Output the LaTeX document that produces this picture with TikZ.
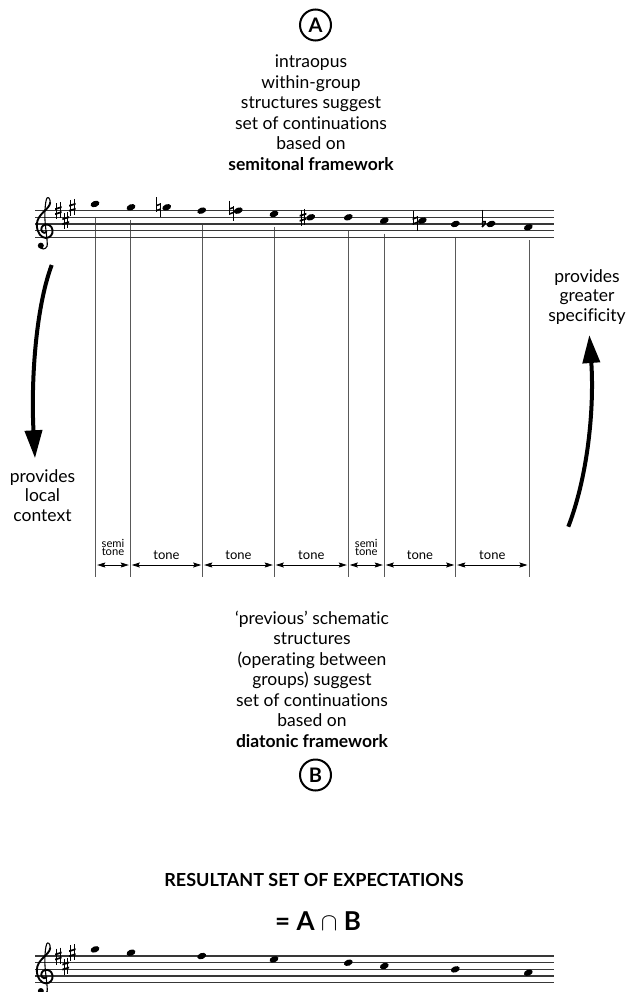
\documentclass[tikz,border=0pt]{standalone}
\usepackage{fontspec}
\setmainfont{Lato}[Ligatures=CommonOff]
\usetikzlibrary{arrows.meta}

\tikzset{
  staffline/.style={line width=1.1pt, draw=black!78},
  guide/.style={line width=0.8pt, draw=black!65},
  span/.style={line width=0.8pt,
    {Stealth[length=8pt,width=5pt,inset=1.2pt]}-{Stealth[length=8pt,width=5pt,inset=1.2pt]},
    shorten <=1.5pt, shorten >=1.5pt},
  bigarrow/.style={line width=4pt, -{Triangle[length=28pt,width=17pt]}},
  % multi-line blocks are anchored at the baseline of their last line
  body/.style={font=\fontsize{17.5}{20.5}\selectfont, align=center, anchor=base, inner sep=0pt},
  sidetext/.style={font=\fontsize{17.5}{19.8}\selectfont, align=center, anchor=base, inner sep=0pt},
  tonelabel/.style={font=\fontsize{13}{13}\selectfont, anchor=base, inner sep=0pt},
  semilabel/.style={font={\fontsize{11.2}{8}\selectfont\lineskiplimit=-20pt},
    align=center, anchor=base, inner sep=0pt},
  ringed/.style={circle, draw, line width=2pt, minimum size=31pt, inner sep=0pt,
    font=\bfseries\fontsize{20}{20}\selectfont},
  notehead/.pic={\fill[rotate=22] (0,0) ellipse [x radius=4.6, y radius=3.0];},
  sharpsign/.pic={
    \draw[line width=0.75pt] (-1.6,-7.5) -- (-1.6,8.5) (1.6,-8.5) -- (1.6,7.5);
    \fill (-3.3,-2.4) -- (3.3,-4.4) -- (3.3,-2.6) -- (-3.3,-0.6) -- cycle;
    \fill (-3.3,2.6) -- (3.3,0.6) -- (3.3,2.4) -- (-3.3,4.4) -- cycle;
  },
  naturalsign/.pic={
    \draw[line width=0.75pt] (-2,-10) -- (-2,4.5) (2,-4.5) -- (2,10);
    \fill (-2.4,-2.4) -- (2.4,-4.2) -- (2.4,-2.6) -- (-2.4,-0.8) -- cycle;
    \fill (-2.4,2.6) -- (2.4,0.8) -- (2.4,2.4) -- (-2.4,4.2) -- cycle;
  },
  flatsign/.pic={
    \draw[line width=0.75pt] (-2,-14) -- (-2,3.2);
    \draw[line width=1.5pt] (-2,-1.2) .. controls (0,-3.8) and (4.5,-3) .. (-2,3);
  },
  gclef/.pic={
    \begin{scope}[x=6.667pt, y=6.667pt]
      \draw[line width=1.1pt, line cap=round, line join=round]
        (0.4,-2.3) .. controls (0.5,-1.5) and (0.0,1.0) .. (0.05,2.5)
        .. controls (0.08,3.5) and (0.15,4.4) .. (0.35,4.85)
        .. controls (0.5,5.15) and (0.9,4.85) .. (0.85,4.2);
      \draw[line width=1.9pt, line cap=round, line join=round]
        (0.85,4.2) .. controls (0.8,3.2) and (-1.15,2.5) .. (-1.15,0.9)
        .. controls (-1.15,-0.3) and (-0.5,-1.1) .. (0.2,-1.1)
        .. controls (0.9,-1.1) and (1.3,-0.5) .. (1.2,0.1)
        .. controls (1.1,0.8) and (0.5,1.0) .. (0.1,0.9)
        .. controls (-0.4,0.8) and (-0.6,0.3) .. (-0.4,-0.1)
        .. controls (-0.25,-0.4) and (0.1,-0.4) .. (0.3,-0.2);
      \draw[line width=1.1pt, line cap=round]
        (0.4,-2.3) .. controls (0.2,-2.9) and (-0.6,-2.9) .. (-0.7,-2.3);
      \fill (-0.55,-2.25) circle [radius=0.45];
    \end{scope}
  },
  staff/.pic={
    \foreach \k in {0,...,4}
      \draw[staffline] (35,-6.667*\k) -- (554,-6.667*\k);
    \pic at (44.5,-6.667) {gclef};
    \pic at (58.3,-26.667) {sharpsign};
    \pic at (65.7,-16.667) {sharpsign};
    \pic at (72.3,-30) {sharpsign};
  }
}

\begin{document}
\begin{tikzpicture}[x=1pt, y=-1pt]
  \fill[white] (0,0) rectangle (627,992);
  \useasboundingbox (0,0) rectangle (627,992);

  % ---------- upper part: chromatic line ----------
  \node[ringed] (circA) at (315.5,25) {A};
  \node[body] (semitext) at (311,170.5)
    {intraopus\\within-group\\structures suggest\\set of continuations\\based on\\\textbf{semitonal framework}};

  % guide lines dropped from the diatonic notes
  \foreach \gx/\gy [count=\i] in {95.7/217, 130.3/220.3, 202.7/223.7, 274.3/227,
                                  348.3/230.3, 384.3/233.7, 455.7/237, 529/240.3} {
    \coordinate (top\i) at (\gx,\gy);
    \coordinate (g\i) at (\gx,565);
    \draw[guide] (top\i) -- (\gx,577);
  }

  \pic at (0,237.3) {staff};

  % note heads (x / steps above the bottom line)
  \foreach \nx/\st in {95/10, 131/9, 166.7/9, 201.7/8, 238.3/8, 274/7, 310.7/6,
                       348.3/6, 384.3/5, 422.3/5, 455.3/4, 491/4, 528.3/3}
    \pic at (\nx,237.3-3.333*\st) {notehead};

  % accidentals
  \pic at (158.5,207.3) {naturalsign};
  \pic at (231.5,210.7) {naturalsign};
  \pic at (303,217.3) {sharpsign};
  \pic at (415,220.7) {naturalsign};
  \pic at (484,224) {flatsign};

  % ---------- interval spans ----------
  \draw[span] (g1) -- (g2);
  \draw[span] (g2) -- (g3);
  \draw[span] (g3) -- (g4);
  \draw[span] (g4) -- (g5);
  \draw[span] (g5) -- (g6);
  \draw[span] (g6) -- (g7);
  \draw[span] (g7) -- (g8);

  \node[semilabel] (s1) at (113,555.5) {semi\\tone};
  \node[semilabel] (s2) at (366.3,555.5) {semi\\tone};
  \node[tonelabel] (t1) at (166.5,559) {tone};
  \node[tonelabel] (t2) at (238.5,559) {tone};
  \node[tonelabel] (t3) at (311.3,559) {tone};
  \node[tonelabel] (t4) at (420,559) {tone};
  \node[tonelabel] (t5) at (492.3,559) {tone};

  % ---------- curved arrows ----------
  \coordinate (la0) at (51.7,265);
  \coordinate (la1) at (35,458.3);
  \draw[bigarrow] (la0) .. controls (35,310) and (31,385) .. (la1);
  \node[sidetext] (lefttext) at (42.5,521.7) {provides\\local\\context};

  \coordinate (ra0) at (568.3,526.7);
  \coordinate (ra1) at (589.3,335);
  \draw[bigarrow] (ra0) .. controls (590,470) and (594,400) .. (ra1);
  \node[sidetext] (righttext) at (587,321.7) {provides\\greater\\specificity};

  % ---------- lower part: diatonic framework ----------
  \node[body] (diatext) at (312,747)
    {‘previous’ schematic\\structures\\(operating between\\groups) suggest\\set of continuations\\based on\\\textbf{diatonic framework}};
  \node[ringed] (circB) at (315.5,775) {B};

  \node[anchor=base, inner sep=0pt, font=\bfseries\fontsize{18}{20}\selectfont] (result)
    at (314,886.7) {RESULTANT SET OF EXPECTATIONS};
  \node[anchor=base, inner sep=0pt, font=\bfseries\fontsize{26}{28}\selectfont] (inter)
    at (318,930) {= A $\cap$ B};

  \pic at (0,982.7) {staff};
  \foreach \nx/\st in {95/10, 131/9, 201.7/8, 274/7, 348.3/6, 384.3/5, 455.3/4, 528.3/3}
    \pic at (\nx,982.7-3.333*\st) {notehead};
\end{tikzpicture}
\end{document}
